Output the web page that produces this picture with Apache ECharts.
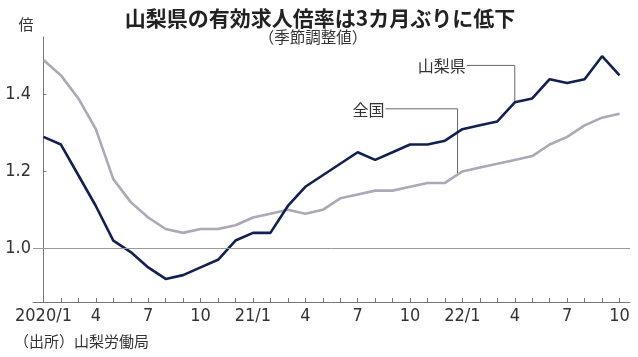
<!DOCTYPE html>
<html>
<head>
<meta charset="utf-8">
<script src="https://cdn.jsdelivr.net/npm/echarts@6/dist/echarts.min.js"></script>
<style>
html,body{margin:0;padding:0;background:#fff;}
#c{width:638px;height:357px;}
</style>
</head>
<body>
<div id="c"></div>
<script>
// month index 0 = 2020/1 ... 33 = 2022/10
const months = Array.from({length: 34}, (_, i) => i);
const tickLabels = {0:'2020/1',3:'4',6:'7',9:'10',12:'21/1',15:'4',18:'7',21:'10',24:'22/1',27:'4',30:'7',33:'10'};
const yLabels = [1.0, 1.2, 1.4];
const yamanashi = [1.29,1.27,1.19,1.11,1.02,0.99,0.95,0.92,0.93,0.95,0.97,1.02,1.04,1.04,1.11,1.16,1.19,1.22,1.25,1.23,1.25,1.27,1.27,1.28,1.31,1.32,1.33,1.38,1.39,1.44,1.43,1.44,1.50,1.45];
const national  = [1.49,1.45,1.39,1.31,1.18,1.12,1.08,1.05,1.04,1.05,1.05,1.06,1.08,1.09,1.10,1.09,1.10,1.13,1.14,1.15,1.15,1.16,1.17,1.17,1.20,1.21,1.22,1.23,1.24,1.27,1.29,1.32,1.34,1.35];
const seriesNames = ['山梨県', '全国'];

const NUM_FONT = '"Liberation Sans Narrow","DejaVu Sans Condensed","Liberation Sans",sans-serif';
const JP_FONT = '"Noto Sans CJK JP","Noto Sans",sans-serif';

const chart = echarts.init(document.getElementById('c'), null, {renderer: 'canvas'});

const leaderStyle = {color: '#666', width: 1};
const option = {
  animation: false,
  backgroundColor: '#fff',
  grid: {left: 33, right: 8, top: 37, bottom: 55},
  xAxis: {
    type: 'value', min: -0.6, max: 33.6,
    axisLine: {show: true, lineStyle: {color: '#777', width: 1}},
    axisTick: {show: true, inside: true, length: 4, lineStyle: {color: '#777'}, customValues: months},
    axisLabel: {
      show: true, margin: 5, color: '#333', fontSize: 18, fontFamily: NUM_FONT,
      customValues: Object.keys(tickLabels).map(Number),
      formatter: v => tickLabels[Math.round(v)] || ''
    },
    splitLine: {show: false}
  },
  yAxis: {
    type: 'value', min: 0.86, max: 1.55,
    axisLine: {show: true, lineStyle: {color: '#777', width: 1}},
    axisTick: {show: true, inside: true, length: 3, lineStyle: {color: '#777'}, customValues: yLabels},
    axisLabel: {
      show: true, margin: 2, color: '#333', fontSize: 18, fontFamily: NUM_FONT,
      customValues: yLabels, formatter: v => v.toFixed(1)
    },
    splitLine: {show: false}
  },
  series: [
    {
      name: seriesNames[1], type: 'line', symbol: 'none', z: 3,
      data: months.map(i => [i, national[i]]),
      lineStyle: {color: '#a9a9b7', width: 2.6},
      markLine: {
        silent: true, symbol: 'none', label: {show: false},
        lineStyle: {color: '#999', width: 1, type: 'solid'},
        data: [{yAxis: 1.0}]
      }
    },
    {
      name: seriesNames[0], type: 'line', symbol: 'none', z: 4,
      data: months.map(i => [i, yamanashi[i]]),
      lineStyle: {color: '#122050', width: 2.6}
    },
    {
      type: 'line', symbol: 'none', z: 2, silent: true,
      data: [[24.25, 1.476], [27, 1.476], [27, yamanashi[27]]],
      lineStyle: leaderStyle
    },
    {
      type: 'line', symbol: 'none', z: 2, silent: true,
      data: [[19.6, 1.363], [23.72, 1.363], [23.72, 1.19]],
      lineStyle: leaderStyle
    }
  ]
};
chart.setOption(option);

const p1 = chart.convertToPixel({gridIndex: 0}, [24.25, 1.476]);
const p2 = chart.convertToPixel({gridIndex: 0}, [19.6, 1.363]);
chart.setOption({
  graphic: [
    {type: 'text', x: 320, y: 18, style: {text: '山梨県の有効求人倍率は3カ月ぶりに低下', font: 'bold 21px ' + JP_FONT, fill: '#222', align: 'center', verticalAlign: 'middle'}},
    {type: 'text', x: 313, y: 37, style: {text: '（季節調整値）', font: '15.5px ' + JP_FONT, fill: '#333', align: 'center', verticalAlign: 'middle'}},
    {type: 'text', x: 26, y: 24, style: {text: '倍', font: '15px ' + JP_FONT, fill: '#333', align: 'center', verticalAlign: 'middle'}},
    {type: 'text', x: 14, y: 341, style: {text: '（出所）山梨労働局', font: '15px ' + JP_FONT, fill: '#333', align: 'left', verticalAlign: 'middle'}},
    {type: 'text', x: p1[0] - 1, y: p1[1] + 1, style: {text: seriesNames[0], font: '16px ' + JP_FONT, fill: '#333', align: 'right', verticalAlign: 'middle'}},
    {type: 'text', x: p2[0] - 1, y: p2[1] + 1, style: {text: seriesNames[1], font: '16px ' + JP_FONT, fill: '#333', align: 'right', verticalAlign: 'middle'}}
  ]
});
</script>
</body>
</html>
